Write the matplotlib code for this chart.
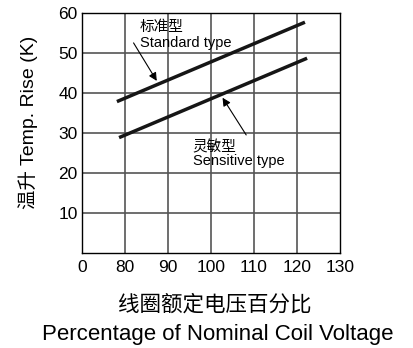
import matplotlib.pyplot as plt

plt.rcParams['font.family'] = ['Liberation Sans', 'Noto Sans CJK SC']

# x axis is broken: "0" sits where 70 would be
x_ticks = [70, 80, 90, 100, 110, 120, 130]
x_labels = ['0', '80', '90', '100', '110', '120', '130']
y_ticks = [10, 20, 30, 40, 50, 60]

std_x = [78.5, 121.5]
std_y = [38, 57.5]
sen_x = [79, 122]
sen_y = [29, 48.5]

fig = plt.figure(figsize=(4.14, 3.48), dpi=100)
ax = fig.add_axes([0.198, 0.273, 0.623, 0.690])

ax.set_xlim(70, 130)
ax.set_ylim(0, 60)
ax.set_xticks(x_ticks)
ax.set_xticklabels(x_labels)
ax.set_yticks(y_ticks)
ax.tick_params(length=0, labelsize=12.5)
ax.tick_params(axis='x', pad=5)
ax.tick_params(axis='y', pad=3)

for v in x_ticks[1:-1]:
    ax.axvline(v, color='#555555', lw=1.2, zorder=1)
for v in y_ticks[:-1]:
    ax.axhline(v, color='#555555', lw=1.2, zorder=1)
for s in ax.spines.values():
    s.set_linewidth(1.0)

ax.plot(std_x, std_y, color='#161616', lw=2.5, zorder=3)
ax.plot(sen_x, sen_y, color='#161616', lw=2.5, zorder=3)

ax.annotate('', xy=(87.4, 43), xytext=(82, 52.5),
            arrowprops=dict(arrowstyle='-|>', color='black', lw=0.8,
                            mutation_scale=12, shrinkA=0, shrinkB=0))
ax.annotate('', xy=(102.7, 38.8), xytext=(108.2, 29.5),
            arrowprops=dict(arrowstyle='-|>', color='black', lw=0.8,
                            mutation_scale=12, shrinkA=0, shrinkB=0))

ax.text(83.5, 56.4, '标准型', fontsize=10.5, va='center',
        family=['Noto Sans CJK SC'])
ax.text(83.6, 51.4, 'Standard type', fontsize=10.5, va='baseline')
ax.text(95.8, 26.4, '灵敏型', fontsize=10.5, va='center',
        family=['Noto Sans CJK SC'])
ax.text(95.8, 22, 'Sensitive type', fontsize=10.5, va='baseline')

fig.text(0.068, 0.649, '温升 Temp. Rise (K)', fontsize=14, rotation=90,
         ha='center', va='center',
         family=['Liberation Sans', 'Noto Sans CJK SC'])

fig.text(0.519, 0.124, '线圈额定电压百分比', fontsize=15.5, ha='center',
         va='center', family=['Noto Sans CJK SC'])
fig.text(0.527, 0.023, 'Percentage of Nominal Coil Voltage', fontsize=16,
         ha='center', va='baseline')

fig.savefig('out.png', dpi=100)
